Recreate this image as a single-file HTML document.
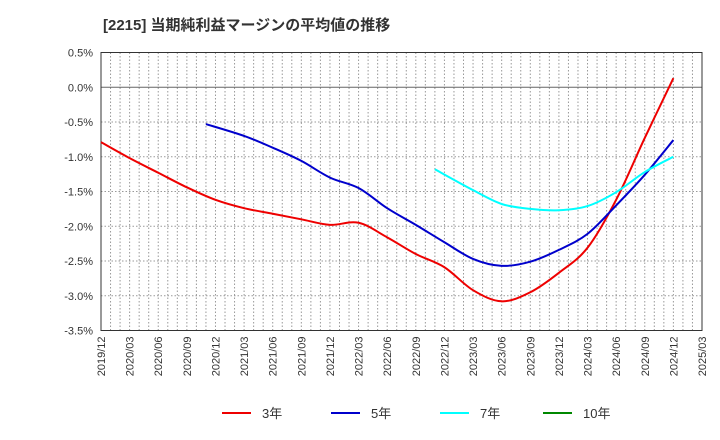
<!DOCTYPE html>
<html><head><meta charset="utf-8"><style>
body{margin:0;background:#fff;}
svg{display:block;font-family:"Liberation Sans","Noto Sans CJK JP",sans-serif;}
</style></head><body>
<svg id="chart" width="720" height="440">
<text x="103" y="30" font-size="15" font-weight="bold" fill="#333">[2215]  当期純利益マージンの平均値の推移</text>
<g id="grid"></g><g id="axes"></g><g id="series"></g>
<g>
<g><line x1="222" y1="413" x2="251" y2="413" stroke="#e00" stroke-width="2"/><text x="262" y="418" font-size="13" fill="#333">3年</text></g>
<g><line x1="331" y1="413" x2="360" y2="413" stroke="#00c" stroke-width="2"/><text x="371" y="418" font-size="13" fill="#333">5年</text></g>
<g><line x1="440" y1="413" x2="469" y2="413" stroke="#0ff" stroke-width="2"/><text x="480" y="418" font-size="13" fill="#333">7年</text></g>
<g><line x1="543" y1="413" x2="572" y2="413" stroke="#080" stroke-width="2"/><text x="583" y="418" font-size="13" fill="#333">10年</text></g>
</g>
</svg>
<script>
const yTicks=[0.5,0,-0.5,-1,-1.5,-2,-2.5,-3,-3.5];
const xTickLabels=["2019/12","2020/03","2020/06","2020/09","2020/12","2021/03","2021/06","2021/09","2021/12","2022/03","2022/06","2022/09","2022/12","2023/03","2023/06","2023/09","2023/12","2024/03","2024/06","2024/09","2024/12","2025/03"];
const dates3=["2019/12","2020/03","2020/06","2020/09","2020/12","2021/03","2021/06","2021/09","2021/12","2022/03","2022/06","2022/09","2022/12","2023/03","2023/06","2023/09","2023/12","2024/03","2024/06","2024/09","2024/12"];
const vals3=[-0.79,-1.02,-1.23,-1.44,-1.62,-1.74,-1.82,-1.9,-1.98,-1.95,-2.16,-2.4,-2.59,-2.92,-3.08,-2.95,-2.67,-2.31,-1.62,-0.73,0.13];
const dates5=["2020/11","2021/03","2021/06","2021/09","2021/12","2022/03","2022/06","2022/09","2022/12","2023/03","2023/06","2023/09","2023/12","2024/03","2024/06","2024/09","2024/12"];
const vals5=[-0.53,-0.7,-0.87,-1.06,-1.3,-1.45,-1.74,-1.98,-2.23,-2.47,-2.57,-2.51,-2.34,-2.11,-1.7,-1.26,-0.76];
const dates7=["2022/11","2023/03","2023/06","2023/09","2023/12","2024/03","2024/06","2024/09","2024/12"];
const vals7=[-1.18,-1.48,-1.68,-1.75,-1.77,-1.71,-1.51,-1.22,-1.0];
const dates10=[];const vals10=[];
const L=101,R=702,T=52.5,B=330.5;
const NS="http://www.w3.org/2000/svg";
function mIdx(d){const[a,b]=d.split("/").map(Number);return (a-2019)*12+b-12;}
const xS=d=>L+mIdx(d)*(R-L)/63;
const yS=v=>T+(0.5-v)*(B-T)/4;
function mk(t,a,p){const e=document.createElementNS(NS,t);for(const k in a)e.setAttribute(k,a[k]);p.appendChild(e);return e;}
const grid=document.getElementById('grid'),axes=document.getElementById('axes'),ser=document.getElementById('series');
for(let m=1;m<63;m++){const x=L+m*(R-L)/63;const l=mk('line',{x1:x,x2:x,y1:T,y2:B,stroke:'#999','stroke-dasharray':'1.5,2','stroke-width':1},grid);

}
yTicks.forEach(v=>{const y=yS(v);const l=mk('line',{x1:L,x2:R,y1:y,y2:y,stroke:v===0?'#666':'#999','stroke-dasharray':v===0?'':'1.5,2','stroke-width':1},grid);


const t=mk('text',{x:L-8,y:y+4,'text-anchor':'end','font-size':11,fill:'#333'},axes);t.textContent=v.toFixed(1)+'%';

});
const fr=mk('rect',{x:L,y:T,width:R-L,height:B-T,fill:'none',stroke:'#333','stroke-width':1},axes);


xTickLabels.forEach(d=>{const x=xS(d);const t=mk('text',{transform:`translate(${x+4},${B+6}) rotate(-90)`,'text-anchor':'end','font-size':11,fill:'#333'},axes);t.textContent=d;

});
function path(ds,vs){const p=ds.map((d,i)=>[xS(d),yS(vs[i])]);if(!p.length)return'';let s=`M${p[0][0]},${p[0][1]}`;
for(let i=0;i<p.length-1;i++){const p0=p[i-1]||p[i],p1=p[i],p2=p[i+1],p3=p[i+2]||p2;
s+=` C${p1[0]+(p2[0]-p0[0])/6},${p1[1]+(p2[1]-p0[1])/6} ${p2[0]-(p3[0]-p1[0])/6},${p2[1]-(p3[1]-p1[1])/6} ${p2[0]},${p2[1]}`;}return s;}
[[dates3,vals3,'#e00','line-3y'],[dates5,vals5,'#00c','line-5y'],[dates7,vals7,'#0ff','line-7y'],[dates10,vals10,'#080','line-10y']].forEach(([d,v,c,n])=>{
if(!d.length)return;const e=mk('path',{d:path(d,v),fill:'none',stroke:c,'stroke-width':2},ser);

});
</script>
</body></html>
